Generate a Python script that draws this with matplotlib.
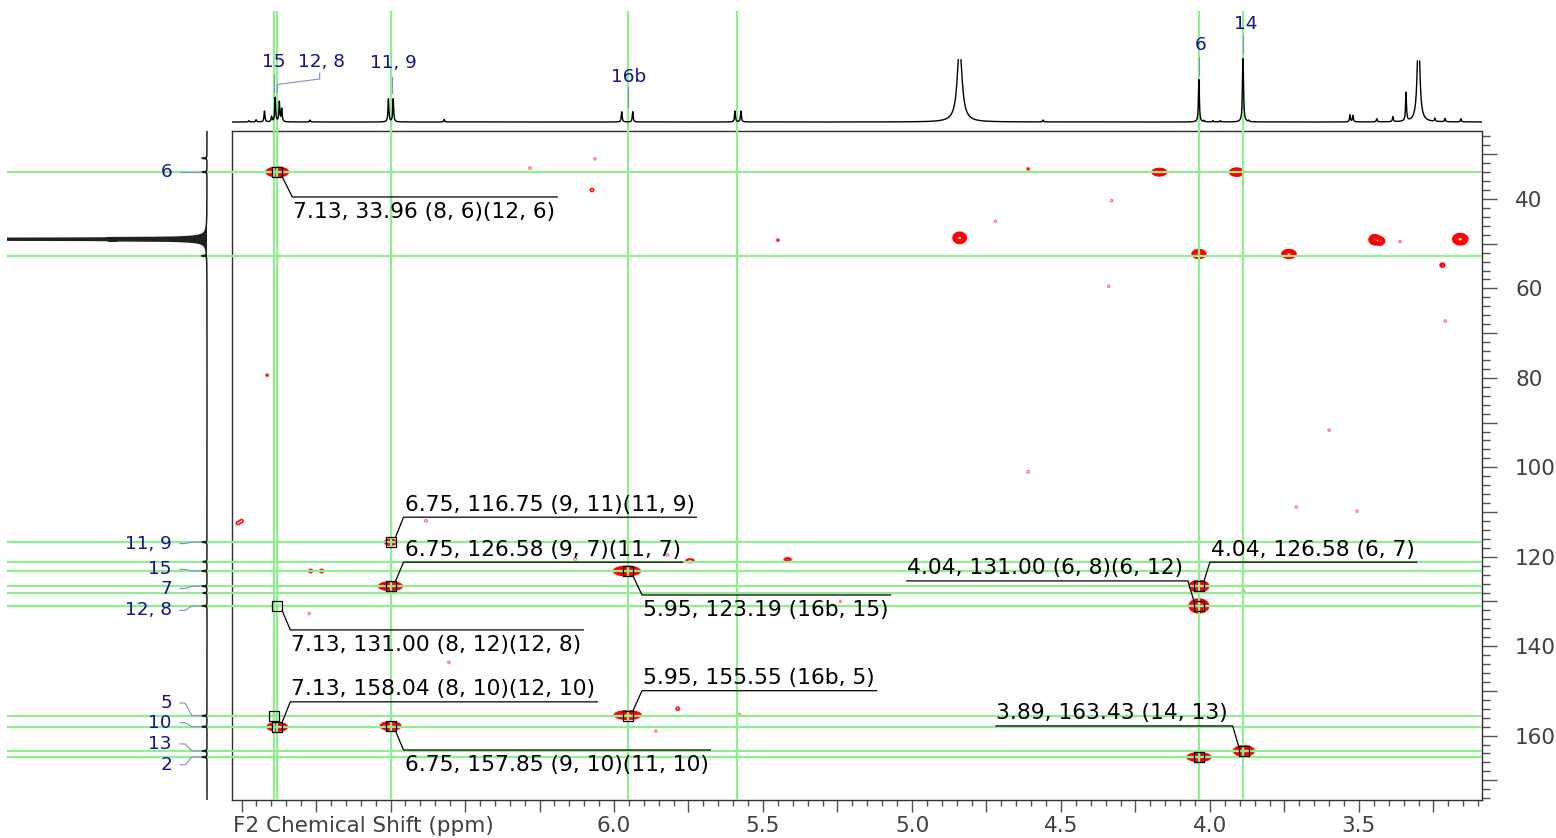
import numpy as np
import matplotlib
matplotlib.use("Agg")
import matplotlib.pyplot as plt
from matplotlib.ticker import MultipleLocator, FuncFormatter
from matplotlib.transforms import IdentityTransform
from matplotlib.lines import Line2D

plt.rcParams['font.family'] = ['DejaVu Sans']

# ------------------------------------------------------------------ data
# 1H projection (F2): peak position (ppm), relative height, half width (ppm)
h_ppm = [7.225, 7.201, 7.173, 7.149, 7.137, 7.123, 7.115, 7.020, 6.757, 6.741,
         6.570, 5.974, 5.937, 5.594, 5.574, 4.840, 4.560, 4.037, 4.020, 3.990,
         3.965, 3.889, 3.870, 3.530, 3.520, 3.440, 3.386, 3.342, 3.300, 3.245,
         3.211, 3.158]
h_int = [0.02, 0.035, 0.17, 0.08, 0.38, 0.31, 0.20, 0.03, 0.36, 0.36,
         0.04, 0.16, 0.16, 0.17, 0.17, 1.2, 0.03, 0.66, 0.02, 0.02,
         0.02, 1.02, 0.02, 0.11, 0.10, 0.05, 0.08, 0.45, 1.5, 0.05,
         0.05, 0.05]
h_lw = [0.0018] * 15 + [0.0095] + [0.0018] * 5 + [0.002] + [0.0018] * 6 + [0.005] + [0.0018] * 3

# 13C projection (F1): position (ppm), relative height, half width (ppm)
c_ppm = [30.9, 33.96, 48.66, 48.83, 49.00, 49.17, 49.34, 52.7, 116.75, 121.1,
         123.19, 126.58, 128.1, 131.0, 155.55, 158.0, 163.43, 164.8]
c_int = [0.025, 0.025, 0.2, 0.6, 40.0, 0.6, 0.2, 0.025, 0.025, 0.02,
         0.025, 0.025, 0.02, 0.025, 0.025, 0.025, 0.025, 0.025]
c_lw = [0.08, 0.08, 0.03, 0.03, 0.028, 0.03, 0.03] + [0.08] * 11

# HMBC cross peaks: F2 (ppm), F1 (ppm), amplitude, widths (ppm)
xp_h = [7.130, 4.170, 3.910, 4.840, 4.037, 3.735, 3.447, 3.430, 3.160, 3.220,
        6.750, 6.750, 7.130, 7.141, 7.130, 6.750, 5.957, 5.954, 4.037, 4.037,
        4.037, 3.886, 5.745, 5.417, 6.130, 5.820, 7.018, 6.981, 7.023, 7.262,
        7.250, 6.631, 7.164, 6.554, 6.282, 6.064, 6.074, 4.610, 4.330, 4.720,
        4.340, 5.450, 3.210, 3.600, 4.610, 3.710, 3.506, 3.888, 5.786, 5.860,
        5.580, 5.240, 3.362]
xp_c = [33.96, 34.00, 34.00, 48.70, 52.30, 52.30, 49.10, 49.40, 49.00, 54.80,
        116.75, 126.58, 131.00, 155.55, 158.04, 157.85, 123.20, 155.40, 126.58, 131.00,
        164.80, 163.43, 120.90, 120.60, 120.50, 119.60, 123.20, 123.20, 132.70, 112.50,
        112.00, 112.00, 79.40, 143.60, 33.10, 31.00, 38.00, 33.30, 40.40, 45.00,
        59.50, 49.20, 67.30, 91.70, 101.00, 108.90, 109.80, 127.70, 154.00, 159.00,
        155.30, 130.00, 49.50]
xp_amp = [1.0, 1.0, 1.0, 1.0, 1.0, 1.0, 0.8, 0.45, 1.0, 0.11,
          0.45, 1.0, 0.055, 0.055, 1.0, 1.0, 1.0, 1.0, 1.0, 1.0,
          1.0, 1.0, 0.13, 0.11, 0.06, 0.055, 0.10, 0.10, 0.055, 0.08,
          0.08, 0.06, 0.065, 0.055, 0.06, 0.055, 0.09, 0.065, 0.055, 0.055,
          0.055, 0.065, 0.055, 0.055, 0.06, 0.055, 0.055, 0.055, 0.09, 0.055,
          0.055, 0.05, 0.055]
xp_wh = [0.0155, 0.0100, 0.0100, 0.0092, 0.0095, 0.0098, 0.0082, 0.0078, 0.0105, 0.0065,
         0.0095, 0.0165, 0.0085, 0.0085, 0.0142, 0.0142, 0.0185, 0.0185, 0.0135, 0.0135,
         0.0165, 0.0142, 0.0100, 0.0095] + [0.0055] * 5 + [0.006, 0.006] + [0.0055] * 22
xp_wc = [0.44, 0.34, 0.37, 0.52, 0.41, 0.41, 0.48, 0.43, 0.52, 0.38,
         0.33, 0.39, 0.32, 0.32, 0.39, 0.39, 0.44, 0.39, 0.52, 0.64,
         0.39, 0.48, 0.30, 0.30] + [0.34] * 29

# assigned correlations (boxes)
mark_h = [7.130, 6.750, 6.750, 7.130, 7.141, 7.130, 6.750, 5.953, 5.953, 4.037, 4.037, 4.037, 3.887]
mark_c = [33.96, 116.75, 126.58, 131.00, 155.55, 158.04, 157.85, 123.19, 155.55, 126.58, 131.00, 164.80, 163.43]

ann_text = ["7.13, 33.96 (8, 6)(12, 6)", "6.75, 116.75 (9, 11)(11, 9)",
            "6.75, 126.58 (9, 7)(11, 7)", "7.13, 131.00 (8, 12)(12, 8)",
            "7.13, 158.04 (8, 10)(12, 10)", "6.75, 157.85 (9, 10)(11, 10)",
            "5.95, 123.19 (16b, 15)", "5.95, 155.55 (16b, 5)",
            "4.04, 131.00 (6, 8)(6, 12)", "4.04, 126.58 (6, 7)",
            "3.89, 163.43 (14, 13)"]
ann_h = [7.130, 6.750, 6.750, 7.130, 7.130, 6.750, 5.953, 5.953, 4.037, 4.037, 3.887]
ann_c = [33.96, 116.75, 126.58, 131.00, 158.04, 157.85, 123.19, 155.55, 131.00, 126.58, 163.43]

# guide lines and assignments
vline_ppm = [7.141, 7.130, 6.748, 5.953, 5.587, 4.037, 3.889]
hline_ppm = [33.96, 52.7, 116.75, 121.1, 123.19, 126.58, 128.1, 131.0, 155.55, 158.0, 163.43, 164.8]
top_labels = ["15", "12, 8", "11, 9", "16b", "6", "14"]
top_label_ppm = [7.141, 7.130, 6.748, 5.953, 4.037, 3.889]
left_labels = ["6", "11, 9", "15", "7", "12, 8", "5", "10", "13", "2"]
left_label_ppm = [33.96, 116.75, 123.19, 126.58, 131.0, 155.55, 158.0, 163.43, 164.8]

F2_LIM = (7.282, 3.087)
F1_LIM = (174.4, 24.8)

# ------------------------------------------------------------------ layout (pixels)
W, H = 1556, 838
fig = plt.figure(figsize=(W / 100, H / 100), dpi=100)


def rect(x0, x1, ytop, ybot):
    return [x0 / W, 1 - ybot / H, (x1 - x0) / W, (ybot - ytop) / H]


ax = fig.add_axes(rect(232, 1482, 131, 800))
ax_top = fig.add_axes(rect(232, 1482, 11, 131))
ax_left = fig.add_axes(rect(7, 232, 131, 800))

GREEN = '#90ee90'
BLUE = '#14148c'
CONN = '#8090c0'
GRAY = '#404040'

# ------------------------------------------------------------------ main 2D panel
ax.set_xlim(F2_LIM)
ax.set_ylim(F1_LIM)

gx = np.linspace(F2_LIM[1], F2_LIM[0], 2100)
gy = np.linspace(F1_LIM[1], F1_LIM[0], 1000)
Z = np.zeros((gy.size, gx.size))
for h, c, a, wh, wc in zip(xp_h, xp_c, xp_amp, xp_wh, xp_wc):
    px = np.exp(-0.5 * ((gx - h) / wh) ** 2)
    py = np.exp(-0.5 * ((gy - c) / wc) ** 2)
    Z += a * np.outer(py, px)
levels = [0.04, 0.06, 0.09, 0.13, 0.19, 0.28, 0.4, 0.55, 0.75]
ax.contour(gx, gy, Z, levels=levels,
           colors=['#ff7a7a'] + ['#ff0000'] * (len(levels) - 1),
           linewidths=0.9, zorder=2)

for v in vline_ppm:
    ax.axvline(v, color=GREEN, lw=1.6, zorder=3)
for hh in hline_ppm:
    ax.axhline(hh, color=GREEN, lw=1.6, zorder=3)

ax.scatter(mark_h, mark_c, marker='s', s=7.2 ** 2, facecolors='none',
           edgecolors='black', linewidths=0.9, zorder=5)

for sp in ax.spines.values():
    sp.set_color('#303030')
    sp.set_linewidth(1.0)

ax.yaxis.tick_right()
ax.yaxis.set_major_locator(MultipleLocator(10))
ax.yaxis.set_minor_locator(MultipleLocator(2))
ax.yaxis.set_major_formatter(FuncFormatter(
    lambda v, p: f'{v:.0f}' if abs(v / 20 - round(v / 20)) < 1e-6 else ''))
ax.xaxis.set_major_locator(MultipleLocator(0.25))
ax.xaxis.set_minor_locator(MultipleLocator(0.05))
ax.xaxis.set_major_formatter(FuncFormatter(
    lambda v, p: f'{v:.1f}' if (abs(v * 2 - round(v * 2)) < 1e-6 and v < 6.01) else ''))
ax.tick_params(axis='y', which='major', length=10.8, width=1, pad=13,
               labelsize=15.5, labelcolor=GRAY, color='#505050')
ax.tick_params(axis='y', which='minor', length=5.8, width=1, color='#505050')
ax.tick_params(axis='x', which='major', length=8.6, width=1, pad=3,
               labelsize=15.5, labelcolor=GRAY, color='#505050')
ax.tick_params(axis='x', which='minor', length=4.3, width=1, color='#505050')
ax.annotate('F2 Chemical Shift (ppm)', xy=(0, 0), xycoords='axes fraction',
            xytext=(1, -16), textcoords='offset pixels', ha='left', va='top',
            fontsize=15.5, color=GRAY)

# ------------------------------------------------------------------ top 1H projection
ax_top.set_xlim(F2_LIM)
ax_top.set_ylim(-9 / 64, 111 / 64)
ax_top.axis('off')
hx = np.arange(F2_LIM[1], F2_LIM[0], 0.0004)
hy = np.zeros_like(hx)
for p, a, w in zip(h_ppm, h_int, h_lw):
    hy += a * w ** 2 / ((hx - p) ** 2 + w ** 2)
hy = np.where(hy > 1.0, np.nan, hy)
for v in vline_ppm:
    ax_top.axvline(v, color=GREEN, lw=1.6, zorder=1)
ax_top.plot(hx, hy, color='black', lw=1.0, zorder=3)

# ------------------------------------------------------------------ left 13C projection
ax_left.set_ylim(F1_LIM)
ax_left.set_xlim(1.0, -0.125)
ax_left.axis('off')
cy = np.arange(F1_LIM[1], F1_LIM[0], 0.004)
cx = np.zeros_like(cy)
for p, a, w in zip(c_ppm, c_int, c_lw):
    cx += a * w ** 2 / ((cy - p) ** 2 + w ** 2)
for hh in hline_ppm:
    ax_left.axhline(hh, color=GREEN, lw=1.6, zorder=1)
ax_left.fill_betweenx(cy, 0, cx, color='#202020', lw=0, zorder=3)
ax_left.plot(cx, cy, color='#202020', lw=1.1, zorder=3)

# ------------------------------------------------------------------ annotations (display pixels)
fig.canvas.draw()
renderer = fig.canvas.get_renderer()
ID = IdentityTransform()


def disp(a, x, y, dx=0.0, dy=0.0):
    X, Y = a.transData.transform((x, y))
    return X + dx, Y - dy


# top labels: (text dx px, text y in spectrum units, connector vertices (dx px, y units))
top_layout = [
    (0, 0.945, [(0, 0.734), (0, 0.469)]),
    (44, 0.945, [(42.4, 0.766), (42.4, 0.672), (0, 0.586), (0, 0.469)]),
    (2, 0.92, [(0.7, 0.703), (0.7, 0.453)]),
    (1, 0.708, [(0, 0.547), (0, 0.234)]),
    (1.5, 1.20, [(0, 1.016), (0, 0.734)]),
    (2.5, 1.535, [(0, 1.344), (0, 1.078)]),
]
for lab, p, (tdx, ty, conn) in zip(top_labels, top_label_ppm, top_layout):
    X, Y = disp(ax_top, p, ty, tdx)
    fig.text(X, Y, lab, transform=ID, ha='center', va='center',
             fontsize=13.3, color=BLUE, zorder=6)
    pts = [disp(ax_top, p, yy, dx) for dx, yy in conn]
    fig.add_artist(Line2D([q[0] for q in pts], [q[1] for q in pts], transform=ID,
                          color=CONN, lw=0.8))

# left labels: text offset (px, downward) from the shift
left_dy = [0, 1.4, -1.6, 2.4, 4.5, -12.7, -4.0, -7.0, 7.7]
for lab, p, ddy in zip(left_labels, left_label_ppm, left_dy):
    X, Y = disp(ax_left, 0.175, p, 0, ddy)
    fig.text(X, Y, lab, transform=ID, ha='right', va='center',
             fontsize=13.3, color=BLUE, zorder=6)
    xs = [0.135, 0.11, 0.075, 0.035]
    ys_off = [ddy, ddy, 0, 0]
    pts = [disp(ax_left, xx, p, 0, oo) for xx, oo in zip(xs, ys_off)]
    fig.add_artist(Line2D([q[0] for q in pts], [q[1] for q in pts], transform=ID,
                          color=CONN, lw=0.8))

# peak annotations: elbow offset (px, image coords), text side
ann_layout = [((15, 25), 'below'), ((13, -25), 'above'), ((13, -24), 'above'),
              ((13, 24), 'below'), ((13, -25), 'above'), ((13, 24), 'below'),
              ((14, 24), 'below'), ((14, -25), 'above'), ((-11, -25), 'above'),
              ((11, -24), 'above'), ((-11, -25), 'above')]
for txt, h, c, ((edx, edy), side) in zip(ann_text, ann_h, ann_c, ann_layout):
    sx, sy = disp(ax, h, c, 5 * np.sign(edx), 5 * np.sign(edy))
    ex, ey = disp(ax, h, c, edx, edy)
    t = fig.text(0, 0, txt, transform=ID, ha='left',
                 va='baseline' if side == 'above' else 'top',
                 fontsize=15.7, color='black', zorder=7)
    w = t.get_window_extent(renderer).width
    if edx > 0:
        x_end = ex + w + 3
        tx = ex + 1
    else:
        x_end = ex - w - 5
        tx = x_end
    ty = ey + 6.5 if side == 'above' else ey - 5
    t.set_position((tx, ty))
    fig.add_artist(Line2D([sx, ex, x_end], [sy, ey, ey], transform=ID,
                          color='black', lw=0.9, zorder=6))

fig.savefig('out.png', dpi=100, facecolor='white')
